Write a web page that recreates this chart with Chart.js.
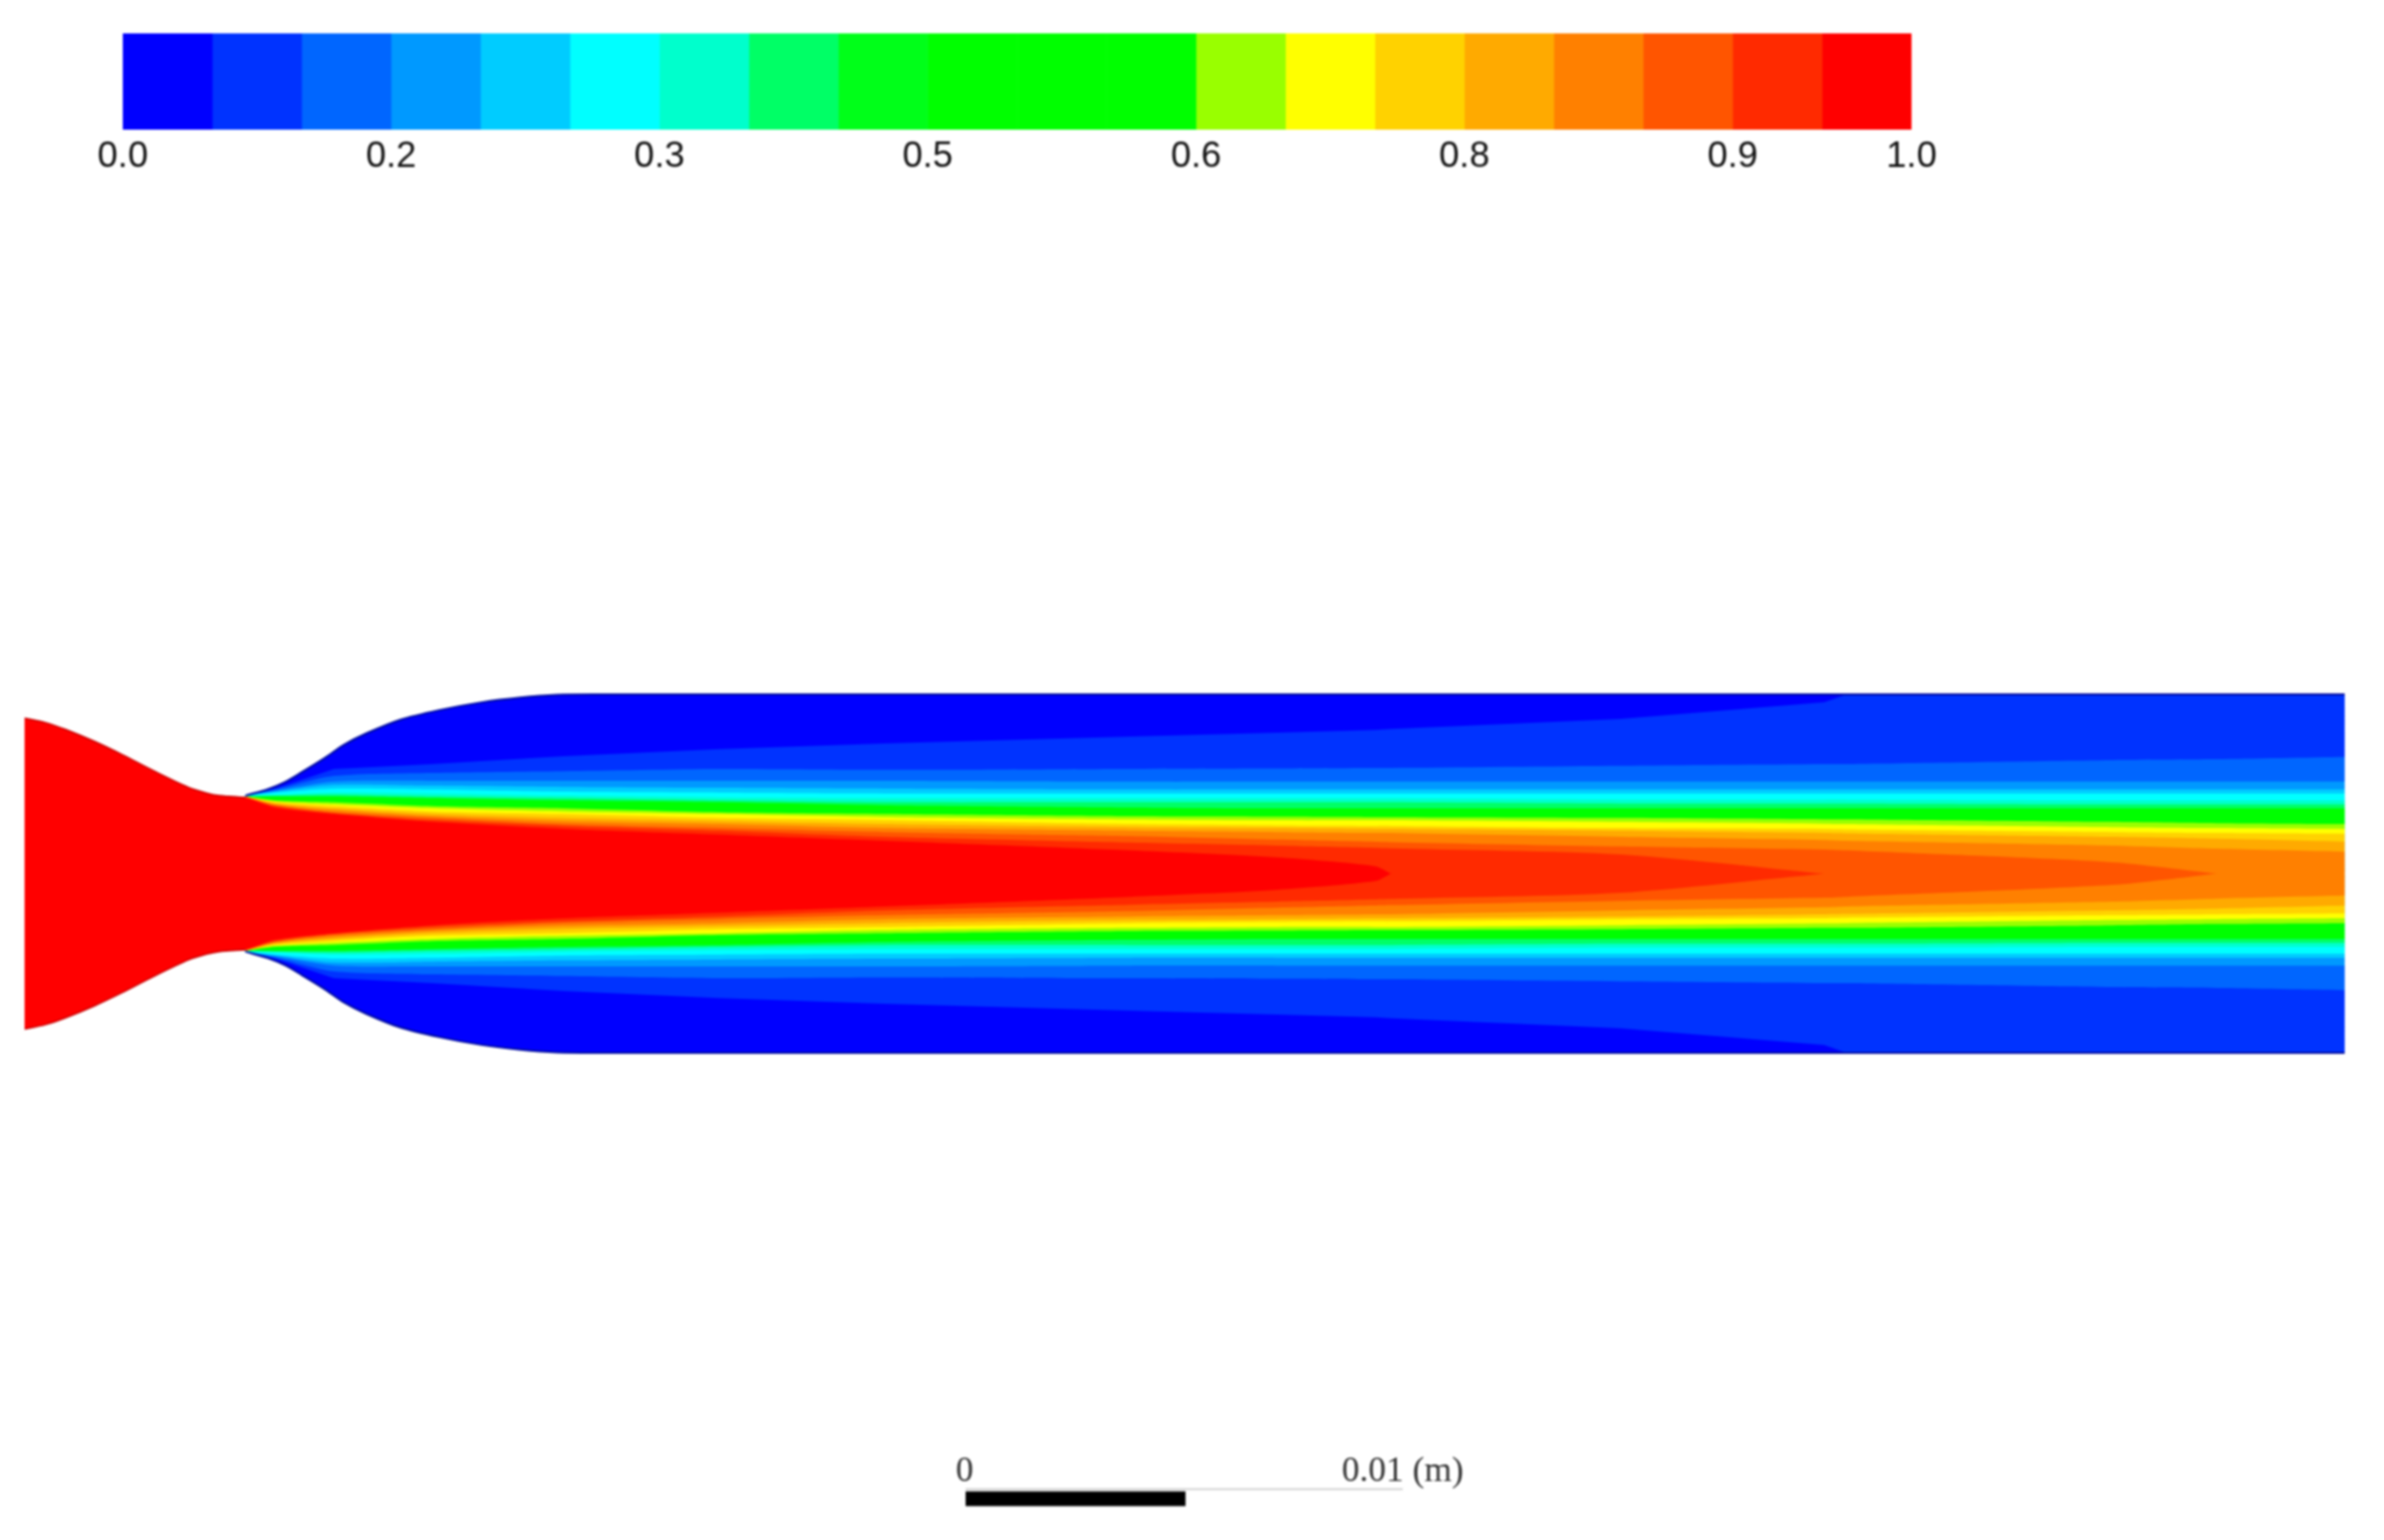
<!DOCTYPE html>
<html>
<head>
<meta charset="utf-8">
<title>Contour</title>
<script src="https://cdn.jsdelivr.net/npm/chart.js@4"></script>
<style>
  html, body { margin: 0; padding: 0; background: #fff; overflow: hidden; }
  #page { position: relative; width: 2427px; height: 1568px; filter: blur(0.8px); }
  canvas { position: absolute; left: 0; top: 0; }
  .scale-label { position: absolute; font-family: "Liberation Serif", serif; font-size: 36px; line-height: 36px; color: #333; transform: translateX(-50%); white-space: nowrap; }
</style>
</head>
<body>
<div id="page">
  <canvas id="contour" width="2427" height="1568"></canvas>
  <canvas id="colorbar" width="2427" height="190"></canvas>
  <div class="scale-label" style="left:982px; top:1478px;">0</div>
  <div class="scale-label" style="left:1428px; top:1478px;">0.01 (m)</div>
</div>
<script>
// colour bar
const bandColors = ["#0000ff", "#0033ff", "#0066ff", "#0099ff", "#00ccff", "#00ffff", "#00ffcc", "#00ff66", "#00ff19", "#00ff00",
  "#00ff00", "#00ff00", "#99ff00", "#ffff00", "#ffd200", "#ffaa00", "#ff8000", "#ff5500", "#ff2a00", "#ff0000"];
const bandWidths = [0.05, 0.05, 0.05, 0.05, 0.05, 0.05, 0.05, 0.05, 0.05, 0.05, 0.05, 0.05, 0.05, 0.05, 0.05, 0.05, 0.05, 0.05, 0.05, 0.05];
const tickValues = [0, 0.15, 0.3, 0.45, 0.6, 0.75, 0.9, 1];
const tickLabels = ["0.0", "0.2", "0.3", "0.5", "0.6", "0.8", "0.9", "1.0"];

// geometry, mm from the inlet and from the centreline
const nozzleX = [0, 0.47, 0.94, 1.59, 2.24, 2.94, 3.74, 4.15, 4.44, 5.04];
const nozzleR = [3.55, 3.45, 3.29, 3.02, 2.71, 2.35, 1.97, 1.84, 1.78, 1.74];
const wallX = [5.04, 5.56, 5.94, 6.32, 6.84, 7.29, 7.80, 8.57, 9.46, 10.43, 11.32, 12.15, 13.12, 52.96];
const wallR = [1.78, 1.93, 2.09, 2.31, 2.63, 2.94, 3.20, 3.51, 3.73, 3.91, 4.02, 4.08, 4.09, 4.09];

// where each contour was read along the channel
const stationX = [5.04, 5.72, 7.06, 9.30, 12.29, 15.87, 19.62, 25.22, 28.59, 30.83, 31.19, 36.43, 41.08, 41.59, 47.65, 50.04, 52.96];

// contour half widths (mm), short lists close on the centreline
const level05 = [1.78, 1.94, 2.39, 2.50, 2.68, 2.84, 2.97, 3.13, 3.22, 3.28, 3.30, 3.53, 3.91, 4.09, 4.09, 4.09, 4.09];
const level10 = [1.78, 1.92, 2.23, 2.30, 2.34, 2.39, 2.37, 2.39, 2.40, 2.41, 2.41, 2.46, 2.50, 2.50, 2.59, 2.61, 2.66];
const level15 = [1.78, 1.89, 2.10, 2.12, 2.12, 2.12, 2.12, 2.10, 2.10, 2.10, 2.10, 2.10, 2.10, 2.10, 2.10, 2.10, 2.10];
const level20 = [1.78, 1.87, 2.03, 2.01, 1.98, 1.96, 1.94, 1.92, 1.92, 1.92, 1.92, 1.92, 1.92, 1.92, 1.92, 1.92, 1.92];
const level25 = [1.78, 1.85, 1.94, 1.92, 1.87, 1.85, 1.83, 1.83, 1.83, 1.83, 1.83, 1.83, 1.83, 1.83, 1.83, 1.83, 1.83];
const level30 = [1.78, 1.80, 1.85, 1.83, 1.78, 1.74, 1.72, 1.72, 1.72, 1.72, 1.72, 1.69, 1.69, 1.69, 1.67, 1.67, 1.67];
const level35 = [1.76, 1.78, 1.80, 1.76, 1.72, 1.67, 1.63, 1.63, 1.63, 1.63, 1.63, 1.60, 1.60, 1.60, 1.58, 1.58, 1.58];
const level40 = [1.76, 1.76, 1.76, 1.72, 1.67, 1.63, 1.56, 1.51, 1.49, 1.49, 1.49, 1.49, 1.49, 1.49, 1.49, 1.49, 1.49];
const level60 = [1.76, 1.67, 1.63, 1.54, 1.49, 1.40, 1.36, 1.31, 1.30, 1.29, 1.29, 1.27, 1.24, 1.24, 1.18, 1.15, 1.13];
const level65 = [1.76, 1.65, 1.58, 1.49, 1.42, 1.36, 1.29, 1.24, 1.22, 1.22, 1.22, 1.18, 1.14, 1.13, 1.06, 1.04, 1.02];
const level70 = [1.76, 1.63, 1.54, 1.42, 1.36, 1.27, 1.22, 1.13, 1.10, 1.09, 1.09, 1.04, 1.02, 1.01, 0.95, 0.93, 0.91];
const level75 = [1.76, 1.60, 1.49, 1.36, 1.27, 1.20, 1.13, 1.06, 1.04, 1.02, 1.02, 0.98, 0.93, 0.92, 0.84, 0.80, 0.73];
const level80 = [1.76, 1.58, 1.45, 1.31, 1.20, 1.13, 1.04, 0.98, 0.95, 0.93, 0.93, 0.84, 0.77, 0.75, 0.64, 0.57, 0.50];
const level85 = [1.74, 1.56, 1.40, 1.27, 1.13, 1.04, 0.95, 0.86, 0.78, 0.73, 0.72, 0.62, 0.55, 0.53, 0.26, 0];
const level90 = [1.74, 1.54, 1.38, 1.22, 1.09, 0.98, 0.84, 0.71, 0.64, 0.59, 0.58, 0.44, 0];
const level95 = [1.74, 1.51, 1.36, 1.18, 1.02, 0.89, 0.75, 0.53, 0.37, 0.17, 0];

// scale bar, mm
const scaleBarX = [21.48, 31.46];
const scaleBarBlackX = [21.48, 26.50];
const scaleBarY = -14.05;
const scaleBarBlackY = -14.27;

// closed outline from a half width profile, mirrored about the centreline.
// the end point goes in twice so the spline keeps a hard corner there
function outline(xs, rs) {
  const upper = rs.map((r, i) => ({ x: xs[i], y: r }));
  const lower = rs.map((r, i) => ({ x: xs[i], y: -r })).reverse();
  return upper.concat([upper[upper.length - 1], lower[0]], lower);
}

function band(points, color, tension) {
  return { data: points, showLine: true, fill: "shape", backgroundColor: color, borderColor: color, borderWidth: 0, pointRadius: 0, tension: tension };
}

function rim(xs, rs, sign, color, width) {
  return { data: rs.map((r, i) => ({ x: xs[i], y: sign * r })), showLine: true, fill: false, borderColor: color, borderWidth: width, pointRadius: 0, tension: 0.3 };
}

const mmPerPx = 1 / 44.6;
const redX = nozzleX.concat(stationX.slice(1, level95.length));
const redR = nozzleR.concat(level95.slice(1));

const bands = [
  band(outline(wallX, wallR), bandColors[0], 0.3),
  band(outline(stationX, level05), bandColors[1], 0),
  band(outline(stationX, level10), bandColors[2], 0.25),
  band(outline(stationX, level15), bandColors[3], 0.25),
  band(outline(stationX, level20), bandColors[4], 0.25),
  band(outline(stationX, level25), bandColors[5], 0.25),
  band(outline(stationX, level30), bandColors[6], 0.25),
  band(outline(stationX, level35), bandColors[7], 0.25),
  band(outline(stationX, level40), bandColors[9], 0.25),
  band(outline(stationX, level60), bandColors[12], 0.25),
  band(outline(stationX, level65), bandColors[13], 0.25),
  band(outline(stationX, level70), bandColors[14], 0.25),
  band(outline(stationX, level75), bandColors[15], 0.25),
  band(outline(stationX, level80), bandColors[16], 0.25),
  band(outline(stationX, level85), bandColors[17], 0.25),
  band(outline(stationX, level90), bandColors[18], 0.25),
  band(outline(redX, redR), bandColors[19], 0.25)
];

const rims = [
  rim(wallX, wallR, 1, "#000ca0", 2),
  rim(wallX, wallR, -1, "#000ca0", 2),
  rim(nozzleX, nozzleR, 1, "#c80000", 1.5),
  rim(nozzleX, nozzleR, -1, "#c80000", 1.5)
];

const scaleLine = {
  data: scaleBarX.map(x => ({ x: x, y: scaleBarY })),
  showLine: true, borderColor: "#d4d4d4", borderWidth: 2, pointRadius: 0
};
const scaleBlack = {
  data: scaleBarBlackX.map(x => ({ x: x, y: scaleBarBlackY })),
  showLine: true, borderColor: "#000000", borderWidth: 15, pointRadius: 0
};

// later in the list means painted later
const contourSets = bands.concat(rims, [scaleLine, scaleBlack]);
contourSets.forEach((ds, i) => { ds.order = contourSets.length - i; });

new Chart(document.getElementById("contour"), {
  type: "scatter",
  data: { datasets: contourSets },
  options: {
    responsive: false,
    animation: false,
    devicePixelRatio: 1,
    layout: { padding: 0 },
    plugins: { legend: { display: false }, tooltip: { enabled: false } },
    scales: {
      x: { type: "linear", display: false, min: -25 * mmPerPx, max: 2402 * mmPerPx },
      y: { type: "linear", display: false, min: -678.5 * mmPerPx, max: 889.5 * mmPerPx }
    }
  }
});

new Chart(document.getElementById("colorbar"), {
  type: "bar",
  data: {
    labels: [""],
    datasets: bandColors.map((color, i) => ({
      data: [bandWidths[i]],
      backgroundColor: color,
      borderWidth: 0,
      barPercentage: 1,
      categoryPercentage: 1
    }))
  },
  options: {
    indexAxis: "y",
    responsive: false,
    animation: false,
    devicePixelRatio: 1,
    layout: { padding: { left: 125, right: 481, top: 34, bottom: 0 } },
    plugins: { legend: { display: false }, tooltip: { enabled: false } },
    scales: {
      x: {
        type: "linear",
        stacked: true,
        min: 0,
        max: 1,
        border: { display: false },
        grid: { display: false },
        afterBuildTicks: axis => { axis.ticks = tickValues.map(v => ({ value: v })); },
        afterFit: axis => { axis.height = 58; },
        ticks: {
          autoSkip: false,
          maxRotation: 0,
          padding: -2,
          color: "#111",
          font: { family: "Liberation Sans", size: 37 },
          callback: (value, index) => tickLabels[index]
        }
      },
      y: { stacked: true, display: false }
    }
  }
});
</script>
</body>
</html>
